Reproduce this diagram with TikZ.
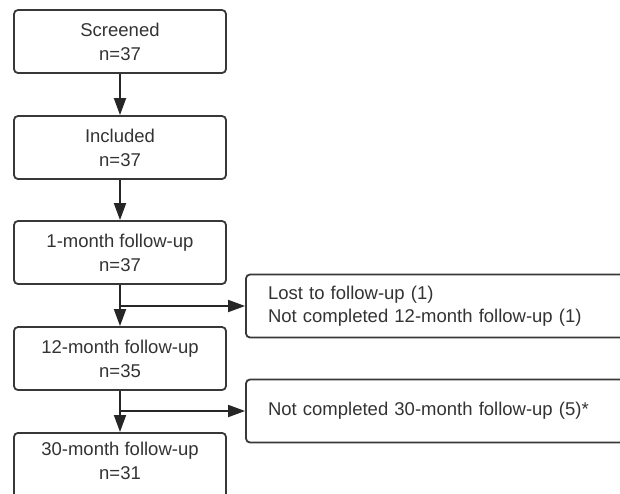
\documentclass[tikz,border=0pt]{standalone}
\usepackage{fontspec}
\setmainfont{Liberation Sans}
\usetikzlibrary{arrows.meta}
\definecolor{boxgray}{HTML}{383838}
\definecolor{txtgray}{HTML}{333333}
\begin{document}
\begin{tikzpicture}[x=1pt,y=-1pt,
  boxtext/.style={align=center, inner sep=0pt,
    font=\fontsize{18.5}{24}\selectfont, text=txtgray},
  box/.style={boxtext, draw=boxgray, line width=1.8pt, rounded corners=4pt,
    minimum width=212pt, minimum height=63pt},
  side/.style={draw=boxgray, line width=1.8pt, rounded corners=4pt,
    text width=350pt, inner xsep=22pt, inner ysep=0pt, minimum height=63pt, align=left,
    font=\fontsize{18.5}{23}\selectfont, text=txtgray},
  arr/.style={line width=1.8pt, draw=black!85, -{Triangle[length=17pt,width=12pt]}}]
\useasboundingbox (0,0) rectangle (620,493);
\clip (0,0) rectangle (620,493);
\node[box] (b1) at (120,41.5) {Screened\\n=37};
\node[box] (b2) at (120,147.5) {Included\\n=37};
\node[box] (b3) at (120,252.5) {1-month follow-up\\n=37};
\node[box] (b4) at (120,358.5) {12-month follow-up\\n=35};
\node[box, minimum height=80pt, anchor=north] (b5) at (120,432) {};
\node[boxtext] (t5) at (120,461) {30-month follow-up\\n=31};
\node[side] (r1) at (443,306) {Lost to follow-up (1)\\Not completed 12-month follow-up (1)};
\node[side] (r2) at (443,411) {Not completed 30-month follow-up (5)*};
\draw[arr] (b1) -- (b2);
\draw[arr] (b2) -- (b3);
\draw[arr] (b3) -- (b4);
\draw[arr] (b4) -- (b5);
\draw[arr] (b3.south |- r1.west) -- (r1.west);
\draw[arr] (b4.south |- r2.west) -- (r2.west);
\end{tikzpicture}
\end{document}
